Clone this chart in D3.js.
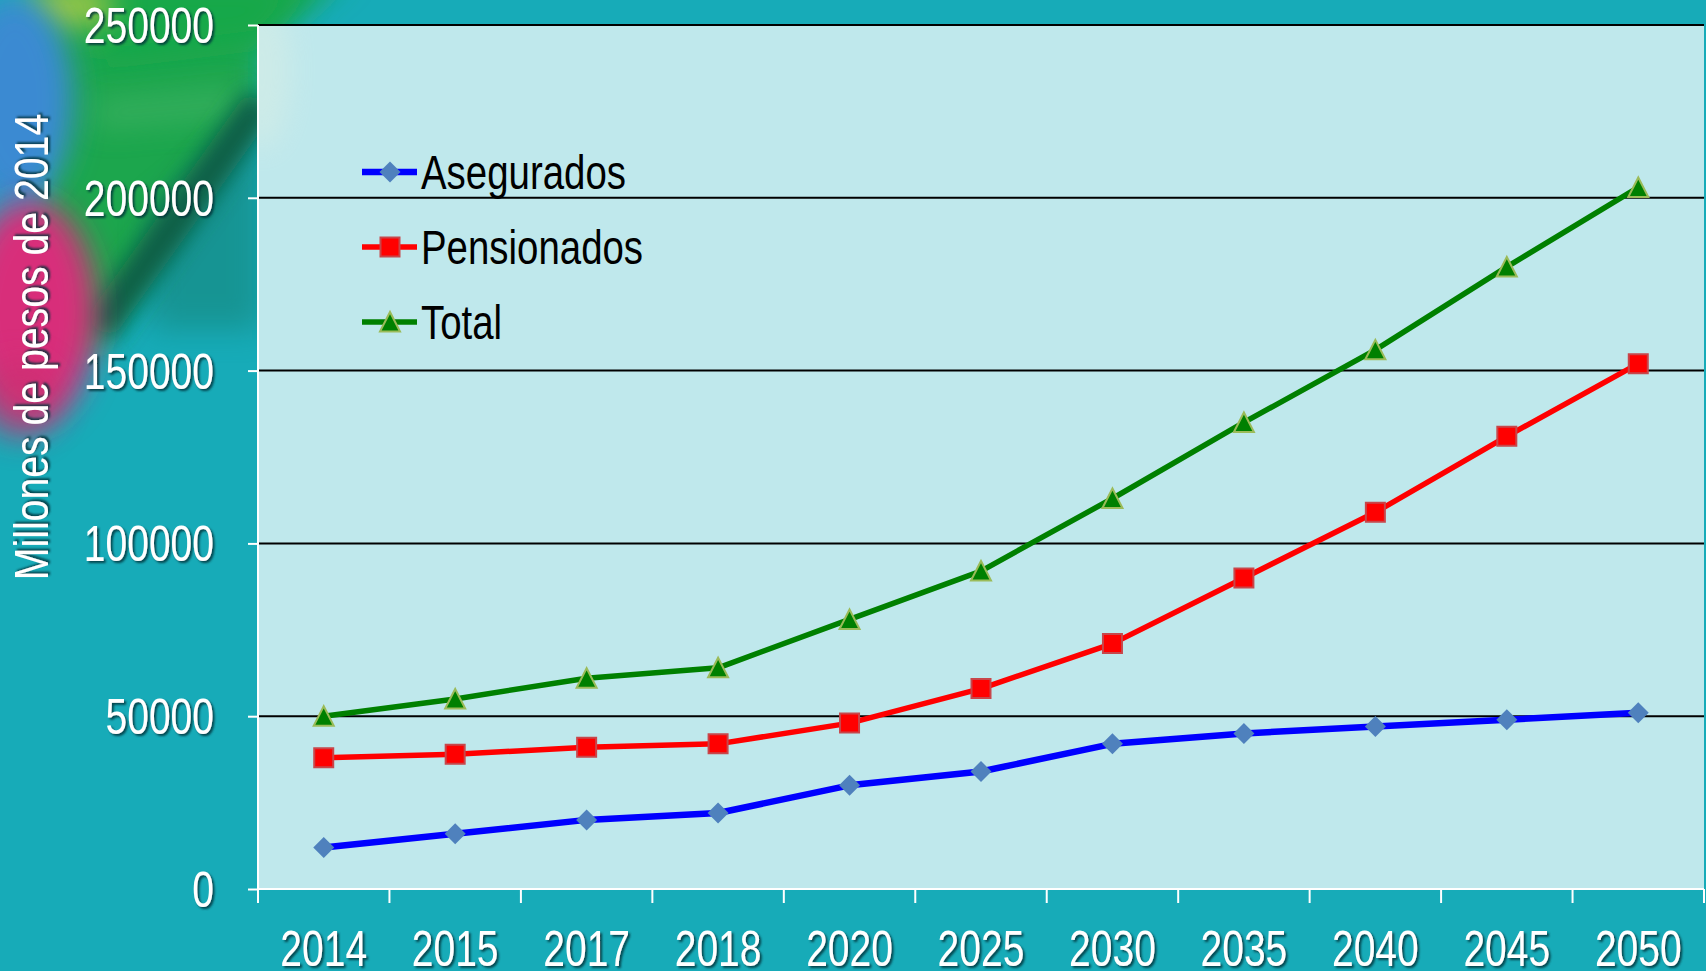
<!DOCTYPE html>
<html>
<head>
<meta charset="utf-8">
<script src="https://cdn.jsdelivr.net/npm/d3@7"></script>
<style>
  html, body { margin: 0; padding: 0; overflow: hidden; background: #17abb8; }
  svg { display: block; }
  text { font-family: "Liberation Sans", Arial, sans-serif; }
</style>
</head>
<body>
<svg id="chart" width="1706" height="971"></svg>
<script>
// ---- data ----
const years = ["2014","2015","2017","2018","2020","2025","2030","2035","2040","2045","2050"];
const asegurados  = [12000, 16000, 20000, 22000, 30000, 34000, 42000, 45000, 47000, 49000, 51000];
const pensionados = [38000, 39000, 41000, 42000, 48000, 58000, 71000, 90000, 109000, 131000, 152000];
const total       = [50000, 55000, 61000, 64000, 78000, 92000, 113000, 135000, 156000, 180000, 203000];
const seriesNames = ["Asegurados", "Pensionados", "Total"];
const yTicks = [0, 50000, 100000, 150000, 200000, 250000];
const yTitle = "Millones de pesos de 2014";

// ---- layout ----
const W = 1706, H = 971;
const margin = { left: 258, top: 25, right: 2, bottom: 82 };
const svg = d3.select("#chart");
const defs = svg.append("defs");

function mkBlur(id, sd) {
  defs.append("filter").attr("id", id).attr("filterUnits", "userSpaceOnUse")
    .attr("x", -200).attr("y", -200).attr("width", 800).attr("height", 900)
    .append("feGaussianBlur").attr("stdDeviation", sd);
}
mkBlur("blur", 15);
mkBlur("blurS", 11);
mkBlur("blur2", 14);

const shadow = defs.append("filter").attr("id", "shadow")
  .attr("x", "-20%").attr("y", "-20%").attr("width", "140%").attr("height", "140%");
shadow.append("feDropShadow").attr("dx", 2).attr("dy", 2).attr("stdDeviation", 1.2)
  .attr("flood-color", "#02303a").attr("flood-opacity", 0.85);

// narrow-font emulation
function narrow(sel, f) {
  sel.each(function () {
    const w = this.getComputedTextLength();
    d3.select(this).attr("textLength", w * f).attr("lengthAdjust", "spacingAndGlyphs");
  });
}

// ---- background ----
svg.append("rect").attr("width", W).attr("height", H).attr("fill", "#17abb8");
const bg = svg.append("g");
bg.append("path").attr("d", "M40,-30L350,-30L262,50L262,105L96,350L40,350Z")
  .attr("fill", "#1fa64e").attr("filter", "url(#blur)");
bg.append("path").attr("d", "M90,-20L310,-20L262,40L100,60Z")
  .attr("fill", "#12a84a").attr("filter", "url(#blur)");
bg.append("line").attr("x1", 95).attr("y1", 115).attr("x2", 240).attr("y2", 102)
  .attr("stroke", "#4ab66a").attr("stroke-width", 26).attr("opacity", 0.6).attr("filter", "url(#blur)");
bg.append("path").attr("d", "M150,210L262,120L262,330L150,330Z")
  .attr("fill", "#177f70").attr("opacity", 0.5).attr("filter", "url(#blur)");
bg.append("line").attr("x1", 262).attr("y1", 100).attr("x2", 98).attr("y2", 330)
  .attr("stroke", "#0b5c44").attr("stroke-width", 34).attr("filter", "url(#blurS)");
bg.append("ellipse").attr("cx", 70).attr("cy", 6).attr("rx", 45).attr("ry", 22).attr("fill", "#9cc846").attr("filter", "url(#blur)");
bg.append("ellipse").attr("cx", 15).attr("cy", 100).attr("rx", 58).attr("ry", 105).attr("fill", "#3a8ad2").attr("filter", "url(#blur)");
bg.append("ellipse").attr("cx", 30).attr("cy", 312).attr("rx", 66).attr("ry", 112).attr("fill", "#d82e7a").attr("filter", "url(#blur)");
bg.append("ellipse").attr("cx", 20).attr("cy", 400).attr("rx", 40).attr("ry", 40).attr("fill", "#c4306e").attr("opacity", 0.5).attr("filter", "url(#blur)");

const x = d3.scaleBand().domain(years).range([margin.left, W - margin.right]).padding(0);
const y = d3.scaleLinear().domain([0, 250000]).range([H - margin.bottom, margin.top]);

// plot area
const plotW = (W - margin.right) - margin.left, plotH = (H - margin.bottom) - margin.top;
defs.append("clipPath").attr("id", "plotClip").append("rect")
  .attr("x", margin.left).attr("y", margin.top).attr("width", plotW).attr("height", plotH);
svg.append("rect")
  .attr("x", margin.left).attr("y", margin.top).attr("width", plotW).attr("height", plotH)
  .attr("fill", "#bfe8ec");
svg.append("g").attr("clip-path", "url(#plotClip)")
  .append("ellipse").attr("cx", 262).attr("cy", 70).attr("rx", 28).attr("ry", 80)
  .attr("fill", "#e2f0e2").attr("opacity", 0.4).attr("filter", "url(#blur2)");

// gridlines
svg.append("g").selectAll("line").data(yTicks.filter(d => d > 0)).join("line")
  .attr("x1", margin.left).attr("x2", W - margin.right)
  .attr("y1", d => y(d)).attr("y2", d => y(d))
  .attr("stroke", "#000").attr("stroke-width", 2);

// y axis
const yAxis = svg.append("g").attr("transform", `translate(${margin.left},0)`)
  .call(d3.axisLeft(y).tickValues(yTicks).tickFormat(d3.format("d")).tickSize(10).tickPadding(34));
yAxis.select(".domain").remove();
yAxis.selectAll(".tick line").attr("stroke", "#fff").attr("stroke-width", 2);
yAxis.selectAll(".tick text").attr("fill", "#fff").attr("font-size", 50)
  .attr("filter", "url(#shadow)").attr("dy", "0.35em");
narrow(yAxis.selectAll(".tick text"), 0.78);

// x axis (ticks at band boundaries)
const xG = svg.append("g");
const bounds = years.map(d => x(d)).concat([x(years[years.length - 1]) + x.bandwidth()]);
xG.selectAll("line.tk").data(bounds).join("line").attr("class", "tk")
  .attr("x1", d => d).attr("x2", d => d)
  .attr("y1", y(0)).attr("y2", y(0) + 14)
  .attr("stroke", "#fff").attr("stroke-width", 2);
const xt = xG.selectAll("text").data(years).join("text")
  .attr("x", d => x(d) + x.bandwidth() / 2)
  .attr("y", y(0) + 77)
  .attr("text-anchor", "middle")
  .attr("fill", "#fff").attr("font-size", 50)
  .attr("filter", "url(#shadow)")
  .text(d => d);
narrow(xt, 0.78);

// axis lines
svg.append("line").attr("x1", margin.left).attr("x2", margin.left)
  .attr("y1", y(250000)).attr("y2", y(0)).attr("stroke", "#fff").attr("stroke-width", 2);
svg.append("line").attr("x1", margin.left).attr("x2", W - margin.right)
  .attr("y1", y(0)).attr("y2", y(0)).attr("stroke", "#fff").attr("stroke-width", 2);

// y title
const yt = svg.append("text")
  .attr("transform", `translate(48,347) rotate(-90)`)
  .attr("text-anchor", "middle")
  .attr("fill", "#fff").attr("font-size", 49)
  .attr("filter", "url(#shadow)")
  .text(yTitle);
narrow(yt, 0.8);

// ---- series ----
const styles = [
  { values: asegurados,  line: "#0000ff", width: 6.5, marker: "diamond",  fill: "#4f81bd", stroke: "none" },
  { values: pensionados, line: "#ff0000", width: 5.5, marker: "square",   fill: "#ff0000", stroke: "#c8464a" },
  { values: total,       line: "#008000", width: 5.5, marker: "triangle", fill: "#008000", stroke: "#9bbb59" }
];

function markerPath(type) {
  if (type === "diamond") return "M0,-10.5L10.5,0L0,10.5L-10.5,0Z";
  if (type === "square") return "M-9.5,-9.5H9.5V9.5H-9.5Z";
  return "M0,-10L10,9.5H-10Z";
}

const cx = i => x(years[i]) + x.bandwidth() / 2;
const lineGen = d3.line().x((d, i) => cx(i)).y(d => y(d));

styles.forEach(s => {
  svg.append("path").datum(s.values)
    .attr("d", lineGen).attr("fill", "none")
    .attr("stroke", s.line).attr("stroke-width", s.width).attr("stroke-linejoin", "round");
});
styles.forEach(s => {
  svg.append("g").selectAll("path").data(s.values).join("path")
    .attr("transform", (d, i) => `translate(${cx(i)},${y(d)})`)
    .attr("d", markerPath(s.marker))
    .attr("fill", s.fill)
    .attr("stroke", s.stroke).attr("stroke-width", s.stroke === "none" ? 0 : 2);
});

// ---- legend ----
const legend = svg.append("g");
const legY = [172, 247, 322];
styles.forEach((s, i) => {
  const g = legend.append("g").attr("transform", `translate(0,${legY[i]})`);
  g.append("line").attr("x1", 362).attr("x2", 417).attr("y1", 0).attr("y2", 0)
    .attr("stroke", s.line).attr("stroke-width", s.width);
  g.append("path").attr("transform", "translate(390,0)").attr("d", markerPath(s.marker))
    .attr("fill", s.fill).attr("stroke", s.stroke).attr("stroke-width", s.stroke === "none" ? 0 : 2);
  const t = g.append("text").attr("x", 421).attr("y", 0).attr("dy", "0.36em")
    .attr("font-size", 48).attr("fill", "#000").text(seriesNames[i]);
  narrow(t, 0.8);
});
</script>
</body>
</html>
